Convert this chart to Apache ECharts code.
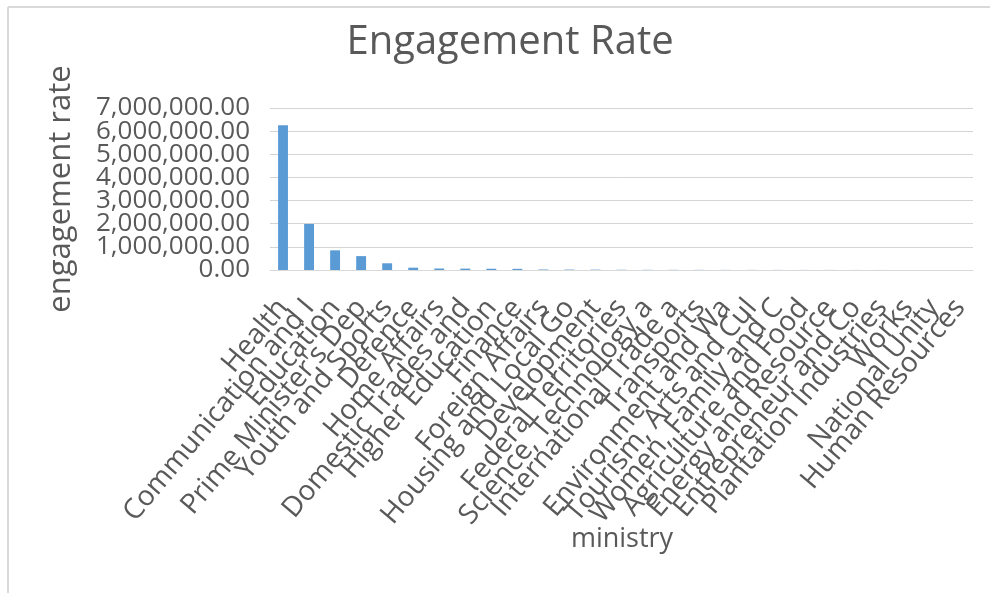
<!DOCTYPE html>
<html>
<head>
<meta charset="utf-8">
<script src="https://cdn.jsdelivr.net/npm/echarts@6/dist/echarts.min.js"></script>
<style>
html,body{margin:0;padding:0;background:#fff;}
#chart{width:994px;height:593px;}
</style>
</head>
<body>
<div id="chart"></div>
<script>
var ministries = [
  "Health", "Communication and I", "Education", "Prime Minister's Dep",
  "Youth and Sports", "Defence", "Home Affairs", "Domestic Trades and",
  "Higher Education", "Finance", "Foreign Affairs", "Housing and Local Go",
  "Development", "Federal Territories", "Science, Technology a",
  "International Trade a", "Transports", "Environment and Wa",
  "Tourism, Arts and Cul", "Women, Family and C", "Agriculture and Food",
  "Energy and Resource", "Entrepreneur and Co", "Plantation Industries",
  "Works", "National Unity", "Human Resources"
];
var engagementRate = [
  6250000, 1990000, 850000, 600000,
  290000, 100000, 65000, 60000,
  55000, 50000, 22000, 18000,
  15000, 10000, 8000,
  7000, 6000, 5000,
  4000, 4000, 3000,
  3000, 2000, 2000,
  1000, 1000, 500
];
var yMax = 7000000;
var yStep = 1000000;

var chart = echarts.init(document.getElementById('chart'), null, {renderer: 'canvas'});
var txt = '#595959';
var ff = '"Open Sans", sans-serif';

function fmt(v) {
  return v.toLocaleString('en-US', {minimumFractionDigits: 2, maximumFractionDigits: 2});
}
// two overlaid value axes (same scale) so that the tightly packed tick labels are all shown
function makeYAxis(parity, withGrid) {
  return {
    type: 'value',
    min: 0, max: yMax, interval: yStep,
    position: 'left',
    axisLine: {show: false},
    axisTick: {show: false},
    splitLine: {show: withGrid, lineStyle: {color: '#d4d4d4', width: 1}},
    axisLabel: {
      margin: 20, color: txt, fontFamily: ff, fontSize: 26,
      showMinLabel: true, showMaxLabel: true,
      formatter: function (v) {
        return (Math.round(v / yStep) % 2 === parity) ? fmt(v) : '';
      }
    }
  };
}

chart.setOption({
  animation: false,
  backgroundColor: '#ffffff',
  title: {
    text: 'Engagement Rate',
    left: 505,
    top: 18,
    textAlign: 'center',
    textStyle: {color: txt, fontFamily: ff, fontSize: 40, fontWeight: 'normal'}
  },
  graphic: [
    {type: 'line', shape: {x1: 8, y1: 7, x2: 990, y2: 7}, style: {stroke: '#d9d9d9', lineWidth: 2}},
    {type: 'line', shape: {x1: 8, y1: 7, x2: 8, y2: 593}, style: {stroke: '#d9d9d9', lineWidth: 2}},
    {type: 'text', x: 61, y: 189, rotation: Math.PI / 2,
     style: {text: 'engagement rate', fill: txt, font: '31px "Open Sans", sans-serif', align: 'center', verticalAlign: 'middle'}},
    {type: 'text', x: 622, y: 539,
     style: {text: 'ministry', fill: txt, font: '27px "Open Sans", sans-serif', align: 'center', verticalAlign: 'middle'}}
  ],
  grid: {left: 270, right: 21, top: 108, bottom: 323, containLabel: false},
  xAxis: {
    type: 'category',
    data: ministries,
    axisLine: {show: true, lineStyle: {color: '#d9d9d9', width: 1}},
    axisTick: {show: false},
    axisLabel: {
      interval: 0, rotate: 50, margin: 33, hideOverlap: false,
      color: txt, fontFamily: ff, fontSize: 28
    }
  },
  yAxis: [makeYAxis(0, true), makeYAxis(1, false)],
  series: [{
    type: 'bar',
    data: engagementRate,
    yAxisIndex: 0,
    barWidth: '38%',
    itemStyle: {color: '#5b9bd5'}
  }]
});
</script>
</body>
</html>
